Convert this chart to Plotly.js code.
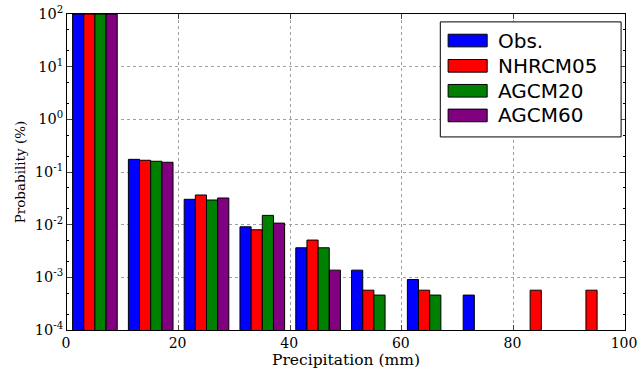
<!DOCTYPE html>
<html>
<head>
<meta charset="utf-8">
<script src="https://cdn.plot.ly/plotly-3.0.1.min.js"></script>
<style>html,body{margin:0;padding:0;background:#fff;}#chart{width:638px;height:369px;}</style>
</head>
<body>
<div id="chart"></div>
<script>
// Bin centres (10 mm bins)
var binCenters = [5, 15, 25, 35, 45, 55, 65, 75, 85, 95];
var seriesNames = ["Obs.", "NHRCM05", "AGCM20", "AGCM60"];
var seriesColors = ["#0000ff", "#ff0000", "#008000", "#800080"];
// Probability (%) per bin
var obs      = [100, 0.174, 0.0303, 0.0091, 0.00364, 0.00137, 0.00091, 0.00046, null, null];
var nhrcm05  = [100, 0.167, 0.0366, 0.0080, 0.0051, 0.00057, 0.00057, null, 0.00057, 0.00057];
var agcm20   = [100, 0.160, 0.0294, 0.0150, 0.00364, 0.00046, 0.00046, null, null, null];
var agcm60   = [100, 0.153, 0.0321, 0.0107, 0.00137, null, null, null, null, null];
var yTickVals = [1e-4, 1e-3, 1e-2, 1e-1, 1e0, 1e1, 1e2];
var yTickText = ["10<sup>-4</sup>", "10<sup>-3</sup>", "10<sup>-2</sup>", "10<sup>-1</sup>", "10<sup>0</sup>", "10<sup>1</sup>", "10<sup>2</sup>"];
var xTickVals = [0, 20, 40, 60, 80, 100];

var allSeries = [obs, nhrcm05, agcm20, agcm60];
var traces = allSeries.map(function (vals, i) {
  return {
    type: "bar",
    x: binCenters,
    y: vals,
    name: seriesNames[i],
    showlegend: false,
    marker: {color: seriesColors[i], line: {color: "#000", width: 1}}
  };
});

// Matplotlib-style legend drawn with paper-referenced shapes and text
var shapes = [{
  type: "rect", xref: "paper", yref: "paper",
  x0: 0.669, x1: 0.993, y0: 0.611, y1: 0.975,
  fillcolor: "#fff", line: {color: "#000", width: 1}, layer: "above"
}];
var annotations = [];
var rowY = [0.916, 0.836, 0.757, 0.679];
seriesNames.forEach(function (name, i) {
  shapes.push({
    type: "rect", xref: "paper", yref: "paper",
    x0: 0.683, x1: 0.753, y0: rowY[i] - 0.02, y1: rowY[i] + 0.02,
    fillcolor: seriesColors[i], line: {color: "#000", width: 1}, layer: "above"
  });
  annotations.push({
    xref: "paper", yref: "paper", x: 0.769, y: rowY[i],
    xanchor: "left", yanchor: "middle", showarrow: false,
    text: name, font: {family: "DejaVu Sans, sans-serif", size: 20, color: "#000"}
  });
});

var serif = "DejaVu Serif, serif";
var layout = {
  width: 638, height: 369,
  margin: {l: 67, r: 13, t: 14, b: 39},
  paper_bgcolor: "#fff", plot_bgcolor: "#fff",
  barmode: "group", bargap: 0.2, bargroupgap: 0,
  font: {family: serif, color: "#000", size: 14},
  xaxis: {
    range: [0, 100], tickvals: xTickVals, ticks: "inside", ticklen: 5,
    showline: true, linecolor: "#000", linewidth: 1, mirror: "ticks",
    showgrid: true, gridcolor: "#a0a0a0", griddash: "dot", gridwidth: 1,
    zeroline: false, ticklabeloverflow: "allow", ticklabelshift: -1,
    tickfont: {family: serif, size: 14},
    title: {text: "Precipitation (mm)", font: {family: serif, size: 15.5}, standoff: 3}
  },
  yaxis: {
    type: "log", range: [-4, 2], tickvals: yTickVals, ticktext: yTickText,
    ticks: "inside", ticklen: 5,
    showline: true, linecolor: "#000", linewidth: 1, mirror: "ticks",
    showgrid: true, gridcolor: "#a0a0a0", griddash: "dot", gridwidth: 1,
    zeroline: false,
    minor: {ticks: "inside", ticklen: 2, tickcolor: "#000", showgrid: false},
    tickfont: {family: serif, size: 14.5},
    title: {text: "Probability (%)", font: {family: serif, size: 13.5}, standoff: 6}
  },
  shapes: shapes,
  annotations: annotations,
  showlegend: false
};

Plotly.newPlot("chart", traces, layout, {displayModeBar: false, staticPlot: true});
</script>
</body>
</html>
